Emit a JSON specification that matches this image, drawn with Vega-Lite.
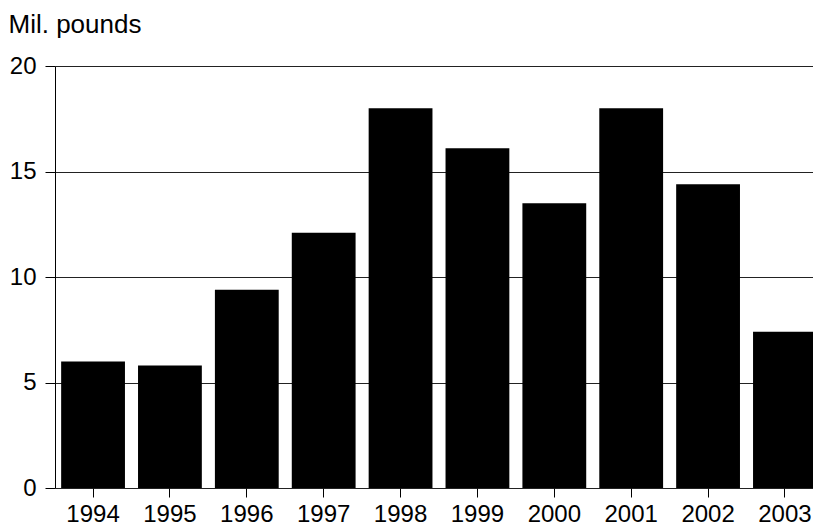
{
  "$schema": "https://vega.github.io/schema/vega-lite/v6.json",
  "width": 768,
  "height": 422,
  "autosize": {"type": "none"},
  "padding": {"left": 55, "top": 66, "right": 0, "bottom": 39},
  "background": "white",
  "config": {
    "view": {"stroke": null},
    "font": "Liberation Sans"
  },
  "data": {
    "values": [
      {"year": "1994", "value": 6.0},
      {"year": "1995", "value": 5.8},
      {"year": "1996", "value": 9.4},
      {"year": "1997", "value": 12.1},
      {"year": "1998", "value": 18.0},
      {"year": "1999", "value": 16.1},
      {"year": "2000", "value": 13.5},
      {"year": "2001", "value": 18.0},
      {"year": "2002", "value": 14.4},
      {"year": "2003", "value": 7.4}
    ]
  },
  "mark": {"type": "bar", "color": "black"},
  "encoding": {
    "x": {
      "field": "year",
      "type": "ordinal",
      "scale": {"paddingInner": 0.17, "paddingOuter": 0.08},
      "axis": {
        "title": null,
        "labelAngle": 0,
        "labelFontSize": 24,
        "labelColor": "black",
        "labelPadding": 5,
        "tickColor": "black",
        "tickSize": 9,
        "domain": false
      }
    },
    "y": {
      "field": "value",
      "type": "quantitative",
      "scale": {"domain": [0, 20], "nice": false},
      "axis": {
        "values": [0, 5, 10, 15, 20],
        "title": "Mil. pounds",
        "titleAngle": 0,
        "titleAlign": "left",
        "titleBaseline": "alphabetic",
        "titleX": -47,
        "titleY": -34,
        "titleFontSize": 26,
        "titleFontWeight": "normal",
        "titleColor": "black",
        "labelFontSize": 24,
        "labelColor": "black",
        "labelPadding": 9,
        "tickColor": "black",
        "tickSize": 10,
        "domainColor": "black",
        "grid": true,
        "gridColor": "#222222",
        "gridWidth": 1
      }
    }
  }
}
